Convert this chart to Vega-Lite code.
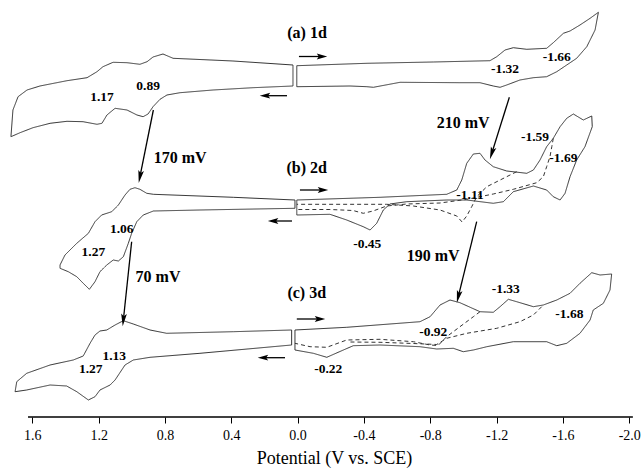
{
"$schema": "https://vega.github.io/schema/vega-lite/v6.json",
"width": 641, "height": 417,
"autosize": {"type": "none"},
"padding": {"left": 0, "right": 0, "top": 0, "bottom": 51},
"background": "white",
"config": {"view": {"stroke": null}},
"datasets": {
"cv": [
{"s":"aL","t":"full","o":1,"E":0.028,"i":35.2},{"s":"aL","t":"full","o":2,"E":0.390,"i":35.6},{"s":"aL","t":"full","o":3,"E":0.751,"i":35.87},{"s":"aL","t":"full","o":4,"E":0.812,"i":36.3},{"s":"aL","t":"full","o":5,"E":0.872,"i":36.0},{"s":"aL","t":"full","o":6,"E":0.908,"i":35.53},{"s":"aL","t":"full","o":7,"E":0.951,"i":35.27},{"s":"aL","t":"full","o":8,"E":1.029,"i":35.43},{"s":"aL","t":"full","o":9,"E":1.113,"i":35.47},{"s":"aL","t":"full","o":10,"E":1.174,"i":35.03},{"s":"aL","t":"full","o":11,"E":1.210,"i":34.53},{"s":"aL","t":"full","o":12,"E":1.270,"i":33.93},{"s":"aL","t":"full","o":13,"E":1.391,"i":33.63},{"s":"aL","t":"full","o":14,"E":1.554,"i":33.1},{"s":"aL","t":"full","o":15,"E":1.632,"i":32.7},{"s":"aL","t":"full","o":16,"E":1.686,"i":32.03},{"s":"aL","t":"full","o":17,"E":1.717,"i":30.7},{"s":"aL","t":"full","o":18,"E":1.729,"i":28.03},{"s":"aL","t":"full","o":19,"E":1.674,"i":28.43},{"s":"aL","t":"full","o":20,"E":1.596,"i":28.93},{"s":"aL","t":"full","o":21,"E":1.493,"i":29.37},{"s":"aL","t":"full","o":22,"E":1.391,"i":29.57},{"s":"aL","t":"full","o":23,"E":1.294,"i":29.53},{"s":"aL","t":"full","o":24,"E":1.210,"i":29.27},{"s":"aL","t":"full","o":25,"E":1.180,"i":29.37},{"s":"aL","t":"full","o":26,"E":1.150,"i":30.2},{"s":"aL","t":"full","o":27,"E":1.101,"i":30.87},{"s":"aL","t":"full","o":28,"E":1.029,"i":30.7},{"s":"aL","t":"full","o":29,"E":0.969,"i":30.2},{"s":"aL","t":"full","o":30,"E":0.932,"i":30.03},{"s":"aL","t":"full","o":31,"E":0.902,"i":30.3},{"s":"aL","t":"full","o":32,"E":0.872,"i":31.03},{"s":"aL","t":"full","o":33,"E":0.830,"i":31.77},{"s":"aL","t":"full","o":34,"E":0.788,"i":32.2},{"s":"aL","t":"full","o":35,"E":0.709,"i":32.43},{"s":"aL","t":"full","o":36,"E":0.510,"i":32.7},{"s":"aL","t":"full","o":37,"E":0.269,"i":32.93},{"s":"aL","t":"full","o":38,"E":0.028,"i":33.1},{"s":"aL","t":"full","o":39,"E":0.028,"i":35.2},
{"s":"aR","t":"full","o":1,"E":0.005,"i":35.13},{"s":"aR","t":"full","o":2,"E":-0.417,"i":35.37},{"s":"aR","t":"full","o":3,"E":-0.818,"i":35.5},{"s":"aR","t":"full","o":4,"E":-1.160,"i":35.63},{"s":"aR","t":"full","o":5,"E":-1.201,"i":36.03},{"s":"aR","t":"full","o":6,"E":-1.251,"i":36.7},{"s":"aR","t":"full","o":7,"E":-1.301,"i":36.93},{"s":"aR","t":"full","o":8,"E":-1.382,"i":36.77},{"s":"aR","t":"full","o":9,"E":-1.502,"i":36.87},{"s":"aR","t":"full","o":10,"E":-1.542,"i":37.43},{"s":"aR","t":"full","o":11,"E":-1.603,"i":38.37},{"s":"aR","t":"full","o":12,"E":-1.643,"i":38.6},{"s":"aR","t":"full","o":13,"E":-1.703,"i":39.2},{"s":"aR","t":"full","o":14,"E":-1.764,"i":39.87},{"s":"aR","t":"full","o":15,"E":-1.814,"i":40.47},{"s":"aR","t":"full","o":16,"E":-1.794,"i":38.7},{"s":"aR","t":"full","o":17,"E":-1.744,"i":37.03},{"s":"aR","t":"full","o":18,"E":-1.683,"i":35.87},{"s":"aR","t":"full","o":19,"E":-1.623,"i":35.2},{"s":"aR","t":"full","o":20,"E":-1.563,"i":34.53},{"s":"aR","t":"full","o":21,"E":-1.502,"i":34.03},{"s":"aR","t":"full","o":22,"E":-1.422,"i":33.93},{"s":"aR","t":"full","o":23,"E":-1.341,"i":33.7},{"s":"aR","t":"full","o":24,"E":-1.261,"i":33.2},{"s":"aR","t":"full","o":25,"E":-1.221,"i":32.97},{"s":"aR","t":"full","o":26,"E":-1.180,"i":33.1},{"s":"aR","t":"full","o":27,"E":-1.100,"i":33.43},{"s":"aR","t":"full","o":28,"E":-0.979,"i":33.43},{"s":"aR","t":"full","o":29,"E":-0.618,"i":33.47},{"s":"aR","t":"full","o":30,"E":-0.457,"i":32.97},{"s":"aR","t":"full","o":31,"E":-0.417,"i":33.03},{"s":"aR","t":"full","o":32,"E":-0.316,"i":33.1},{"s":"aR","t":"full","o":33,"E":0.005,"i":33.03},{"s":"aR","t":"full","o":34,"E":0.005,"i":35.13},
{"s":"bL","t":"full","o":1,"E":0.016,"i":21.7},{"s":"bL","t":"full","o":2,"E":0.388,"i":21.97},{"s":"bL","t":"full","o":3,"E":0.870,"i":22.27},{"s":"bL","t":"full","o":4,"E":0.910,"i":22.37},{"s":"bL","t":"full","o":5,"E":0.951,"i":22.77},{"s":"bL","t":"full","o":6,"E":0.981,"i":22.93},{"s":"bL","t":"full","o":7,"E":1.011,"i":22.77},{"s":"bL","t":"full","o":8,"E":1.041,"i":22.2},{"s":"bL","t":"full","o":9,"E":1.081,"i":21.2},{"s":"bL","t":"full","o":10,"E":1.121,"i":20.53},{"s":"bL","t":"full","o":11,"E":1.182,"i":20.2},{"s":"bL","t":"full","o":12,"E":1.222,"i":19.53},{"s":"bL","t":"full","o":13,"E":1.262,"i":18.37},{"s":"bL","t":"full","o":14,"E":1.332,"i":17.37},{"s":"bL","t":"full","o":15,"E":1.403,"i":16.2},{"s":"bL","t":"full","o":16,"E":1.433,"i":15.2},{"s":"bL","t":"full","o":17,"E":1.433,"i":14.87},{"s":"bL","t":"full","o":18,"E":1.383,"i":14.53},{"s":"bL","t":"full","o":19,"E":1.332,"i":14.03},{"s":"bL","t":"full","o":20,"E":1.293,"i":13.37},{"s":"bL","t":"full","o":21,"E":1.256,"i":12.77},{"s":"bL","t":"full","o":22,"E":1.222,"i":13.53},{"s":"bL","t":"full","o":23,"E":1.192,"i":14.53},{"s":"bL","t":"full","o":24,"E":1.151,"i":15.2},{"s":"bL","t":"full","o":25,"E":1.112,"i":15.7},{"s":"bL","t":"full","o":26,"E":1.081,"i":15.6},{"s":"bL","t":"full","o":27,"E":1.051,"i":16.03},{"s":"bL","t":"full","o":28,"E":1.021,"i":17.37},{"s":"bL","t":"full","o":29,"E":1.001,"i":18.37},{"s":"bL","t":"full","o":30,"E":0.970,"i":19.53},{"s":"bL","t":"full","o":31,"E":0.931,"i":20.2},{"s":"bL","t":"full","o":32,"E":0.870,"i":20.6},{"s":"bL","t":"full","o":33,"E":0.589,"i":20.7},{"s":"bL","t":"full","o":34,"E":0.016,"i":20.87},{"s":"bL","t":"full","o":35,"E":0.016,"i":21.7},
{"s":"bR","t":"full","o":1,"E":0.005,"i":21.7},{"s":"bR","t":"full","o":2,"E":-0.497,"i":21.97},{"s":"bR","t":"full","o":3,"E":-0.899,"i":22.27},{"s":"bR","t":"full","o":4,"E":-0.960,"i":22.7},{"s":"bR","t":"full","o":5,"E":-0.990,"i":23.7},{"s":"bR","t":"full","o":6,"E":-1.020,"i":25.37},{"s":"bR","t":"full","o":7,"E":-1.060,"i":26.3},{"s":"bR","t":"full","o":8,"E":-1.100,"i":26.37},{"s":"bR","t":"full","o":9,"E":-1.130,"i":25.7},{"s":"bR","t":"full","o":10,"E":-1.180,"i":25.03},{"s":"bR","t":"full","o":11,"E":-1.261,"i":24.6},{"s":"bR","t":"full","o":12,"E":-1.382,"i":24.37},{"s":"bR","t":"full","o":13,"E":-1.422,"i":24.7},{"s":"bR","t":"full","o":14,"E":-1.462,"i":25.7},{"s":"bR","t":"full","o":15,"E":-1.502,"i":27.03},{"s":"bR","t":"full","o":16,"E":-1.542,"i":27.87},{"s":"bR","t":"full","o":17,"E":-1.583,"i":29.03},{"s":"bR","t":"full","o":18,"E":-1.623,"i":29.87},{"s":"bR","t":"full","o":19,"E":-1.663,"i":30.3},{"s":"bR","t":"full","o":20,"E":-1.723,"i":29.7},{"s":"bR","t":"full","o":21,"E":-1.774,"i":30.1},{"s":"bR","t":"full","o":22,"E":-1.777,"i":29.03},{"s":"bR","t":"full","o":23,"E":-1.733,"i":27.03},{"s":"bR","t":"full","o":24,"E":-1.683,"i":25.7},{"s":"bR","t":"full","o":25,"E":-1.643,"i":24.03},{"s":"bR","t":"full","o":26,"E":-1.613,"i":22.37},{"s":"bR","t":"full","o":27,"E":-1.583,"i":21.7},{"s":"bR","t":"full","o":28,"E":-1.542,"i":22.03},{"s":"bR","t":"full","o":29,"E":-1.502,"i":22.7},{"s":"bR","t":"full","o":30,"E":-1.422,"i":23.1},{"s":"bR","t":"full","o":31,"E":-1.301,"i":22.53},{"s":"bR","t":"full","o":32,"E":-1.241,"i":21.53},{"s":"bR","t":"full","o":33,"E":-1.180,"i":21.37},{"s":"bR","t":"full","o":34,"E":-1.020,"i":21.7},{"s":"bR","t":"full","o":35,"E":-0.899,"i":21.7},{"s":"bR","t":"full","o":36,"E":-0.658,"i":21.53},{"s":"bR","t":"full","o":37,"E":-0.557,"i":21.3},{"s":"bR","t":"full","o":38,"E":-0.517,"i":20.7},{"s":"bR","t":"full","o":39,"E":-0.477,"i":19.37},{"s":"bR","t":"full","o":40,"E":-0.437,"i":18.7},{"s":"bR","t":"full","o":41,"E":-0.396,"i":19.03},{"s":"bR","t":"full","o":42,"E":-0.296,"i":19.7},{"s":"bR","t":"full","o":43,"E":-0.195,"i":20.27},{"s":"bR","t":"full","o":44,"E":0.005,"i":20.2},{"s":"bR","t":"full","o":45,"E":0.005,"i":21.7},
{"s":"db1","t":"partial","o":1,"E":-1.321,"i":24.53},{"s":"db1","t":"partial","o":2,"E":-1.261,"i":24.03},{"s":"db1","t":"partial","o":3,"E":-1.141,"i":23.03},{"s":"db1","t":"partial","o":4,"E":-1.080,"i":22.03},{"s":"db1","t":"partial","o":5,"E":-1.050,"i":21.03},{"s":"db1","t":"partial","o":6,"E":-1.020,"i":20.1},{"s":"db1","t":"partial","o":7,"E":-0.992,"i":19.5},{"s":"db1","t":"partial","o":8,"E":-0.960,"i":20.1},{"s":"db1","t":"partial","o":9,"E":-0.859,"i":20.7},{"s":"db1","t":"partial","o":10,"E":-0.698,"i":21.1},{"s":"db1","t":"partial","o":11,"E":-0.537,"i":21.27},{"s":"db1","t":"partial","o":12,"E":-0.256,"i":21.27},{"s":"db1","t":"partial","o":13,"E":0.005,"i":21.27},
{"s":"db2","t":"partial","o":1,"E":-1.542,"i":27.87},{"s":"db2","t":"partial","o":2,"E":-1.533,"i":27.03},{"s":"db2","t":"partial","o":3,"E":-1.522,"i":26.03},{"s":"db2","t":"partial","o":4,"E":-1.502,"i":25.03},{"s":"db2","t":"partial","o":5,"E":-1.482,"i":24.03},{"s":"db2","t":"partial","o":6,"E":-1.442,"i":23.43},{"s":"db2","t":"partial","o":7,"E":-1.301,"i":22.77},{"s":"db2","t":"partial","o":8,"E":-1.180,"i":22.3},{"s":"db2","t":"partial","o":9,"E":-1.100,"i":22.03},{"s":"db2","t":"partial","o":10,"E":-1.020,"i":21.77},{"s":"db2","t":"partial","o":11,"E":-0.859,"i":21.4},{"s":"db2","t":"partial","o":12,"E":-0.658,"i":21.3},{"s":"db2","t":"partial","o":13,"E":-0.537,"i":21.1},{"s":"db2","t":"partial","o":14,"E":-0.455,"i":20.6},{"s":"db2","t":"partial","o":15,"E":-0.396,"i":20.37},{"s":"db2","t":"partial","o":16,"E":-0.334,"i":20.65},{"s":"db2","t":"partial","o":17,"E":-0.195,"i":20.75},{"s":"db2","t":"partial","o":18,"E":0.005,"i":20.75},
{"s":"cL","t":"full","o":1,"E":0.036,"i":8.7},{"s":"cL","t":"full","o":2,"E":0.388,"i":8.53},{"s":"cL","t":"full","o":3,"E":0.790,"i":8.37},{"s":"cL","t":"full","o":4,"E":0.890,"i":8.7},{"s":"cL","t":"full","o":5,"E":0.991,"i":9.3},{"s":"cL","t":"full","o":6,"E":1.051,"i":9.63},{"s":"cL","t":"full","o":7,"E":1.101,"i":9.2},{"s":"cL","t":"full","o":8,"E":1.151,"i":8.7},{"s":"cL","t":"full","o":9,"E":1.192,"i":8.6},{"s":"cL","t":"full","o":10,"E":1.222,"i":8.2},{"s":"cL","t":"full","o":11,"E":1.252,"i":7.37},{"s":"cL","t":"full","o":12,"E":1.293,"i":6.1},{"s":"cL","t":"full","o":13,"E":1.353,"i":5.7},{"s":"cL","t":"full","o":14,"E":1.493,"i":5.2},{"s":"cL","t":"full","o":15,"E":1.634,"i":4.37},{"s":"cL","t":"full","o":16,"E":1.694,"i":3.53},{"s":"cL","t":"full","o":17,"E":1.704,"i":2.53},{"s":"cL","t":"full","o":18,"E":1.634,"i":2.7},{"s":"cL","t":"full","o":19,"E":1.493,"i":3.2},{"s":"cL","t":"full","o":20,"E":1.393,"i":3.1},{"s":"cL","t":"full","o":21,"E":1.332,"i":2.53},{"s":"cL","t":"full","o":22,"E":1.262,"i":1.7},{"s":"cL","t":"full","o":23,"E":1.222,"i":2.03},{"s":"cL","t":"full","o":24,"E":1.192,"i":2.7},{"s":"cL","t":"full","o":25,"E":1.131,"i":3.2},{"s":"cL","t":"full","o":26,"E":1.101,"i":3.7},{"s":"cL","t":"full","o":27,"E":1.041,"i":5.2},{"s":"cL","t":"full","o":28,"E":0.991,"i":5.7},{"s":"cL","t":"full","o":29,"E":0.890,"i":5.97},{"s":"cL","t":"full","o":30,"E":0.589,"i":6.37},{"s":"cL","t":"full","o":31,"E":0.036,"i":7.2},{"s":"cL","t":"full","o":32,"E":0.036,"i":8.7},
{"s":"cR","t":"full","o":1,"E":0.016,"i":8.7},{"s":"cR","t":"full","o":2,"E":-0.296,"i":8.97},{"s":"cR","t":"full","o":3,"E":-0.738,"i":9.53},{"s":"cR","t":"full","o":4,"E":-0.799,"i":10.03},{"s":"cR","t":"full","o":5,"E":-0.859,"i":11.2},{"s":"cR","t":"full","o":6,"E":-0.919,"i":11.7},{"s":"cR","t":"full","o":7,"E":-0.979,"i":11.43},{"s":"cR","t":"full","o":8,"E":-1.100,"i":10.53},{"s":"cR","t":"full","o":9,"E":-1.180,"i":10.47},{"s":"cR","t":"full","o":10,"E":-1.221,"i":11.03},{"s":"cR","t":"full","o":11,"E":-1.271,"i":11.77},{"s":"cR","t":"full","o":12,"E":-1.321,"i":11.53},{"s":"cR","t":"full","o":13,"E":-1.422,"i":11.03},{"s":"cR","t":"full","o":14,"E":-1.482,"i":11.2},{"s":"cR","t":"full","o":15,"E":-1.563,"i":11.7},{"s":"cR","t":"full","o":16,"E":-1.643,"i":12.37},{"s":"cR","t":"full","o":17,"E":-1.703,"i":13.37},{"s":"cR","t":"full","o":18,"E":-1.774,"i":14.43},{"s":"cR","t":"full","o":19,"E":-1.824,"i":14.2},{"s":"cR","t":"full","o":20,"E":-1.894,"i":14.3},{"s":"cR","t":"full","o":21,"E":-1.884,"i":12.7},{"s":"cR","t":"full","o":22,"E":-1.844,"i":11.37},{"s":"cR","t":"full","o":23,"E":-1.783,"i":10.7},{"s":"cR","t":"full","o":24,"E":-1.764,"i":9.7},{"s":"cR","t":"full","o":25,"E":-1.703,"i":8.37},{"s":"cR","t":"full","o":26,"E":-1.623,"i":7.37},{"s":"cR","t":"full","o":27,"E":-1.563,"i":7.13},{"s":"cR","t":"full","o":28,"E":-1.502,"i":7.53},{"s":"cR","t":"full","o":29,"E":-1.301,"i":7.53},{"s":"cR","t":"full","o":30,"E":-1.141,"i":7.03},{"s":"cR","t":"full","o":31,"E":-1.060,"i":6.7},{"s":"cR","t":"full","o":32,"E":-0.999,"i":6.53},{"s":"cR","t":"full","o":33,"E":-0.939,"i":6.87},{"s":"cR","t":"full","o":34,"E":-0.839,"i":6.8},{"s":"cR","t":"full","o":35,"E":-0.738,"i":7.03},{"s":"cR","t":"full","o":36,"E":-0.497,"i":7.2},{"s":"cR","t":"full","o":37,"E":-0.336,"i":7.13},{"s":"cR","t":"full","o":38,"E":-0.276,"i":6.7},{"s":"cR","t":"full","o":39,"E":-0.176,"i":5.97},{"s":"cR","t":"full","o":40,"E":-0.095,"i":6.37},{"s":"cR","t":"full","o":41,"E":0.016,"i":6.7},{"s":"cR","t":"full","o":42,"E":0.016,"i":8.7},
{"s":"dc1","t":"partial","o":1,"E":-1.100,"i":10.53},{"s":"dc1","t":"partial","o":2,"E":-1.060,"i":10.03},{"s":"dc1","t":"partial","o":3,"E":-0.979,"i":9.03},{"s":"dc1","t":"partial","o":4,"E":-0.899,"i":8.03},{"s":"dc1","t":"partial","o":5,"E":-0.847,"i":7.15},{"s":"dc1","t":"partial","o":6,"E":-0.799,"i":7.2},{"s":"dc1","t":"partial","o":7,"E":-0.698,"i":7.53},{"s":"dc1","t":"partial","o":8,"E":-0.497,"i":7.77},{"s":"dc1","t":"partial","o":9,"E":-0.296,"i":7.7},{"s":"dc1","t":"partial","o":10,"E":-0.176,"i":6.97},{"s":"dc1","t":"partial","o":11,"E":-0.075,"i":7.03},{"s":"dc1","t":"partial","o":12,"E":0.016,"i":7.37},
{"s":"dc2","t":"partial","o":1,"E":-1.472,"i":11.03},{"s":"dc2","t":"partial","o":2,"E":-1.422,"i":10.2},{"s":"dc2","t":"partial","o":3,"E":-1.341,"i":9.53},{"s":"dc2","t":"partial","o":4,"E":-1.201,"i":8.87},{"s":"dc2","t":"partial","o":5,"E":-1.020,"i":8.37},{"s":"dc2","t":"partial","o":6,"E":-0.899,"i":7.87},{"s":"dc2","t":"partial","o":7,"E":-0.839,"i":7.25},{"s":"dc2","t":"partial","o":8,"E":-0.698,"i":7.35},{"s":"dc2","t":"partial","o":9,"E":-0.497,"i":7.47},{"s":"dc2","t":"partial","o":10,"E":-0.316,"i":7.5}
],
"arrows": [
{"id":"aR","E":-0.147,"i":36.05,"E2":-0.008,"i2":36.05},
{"id":"aL","E":0.197,"i":32.13,"E2":0.064,"i2":32.13},
{"id":"bR","E":-0.153,"i":22.7,"E2":-0.014,"i2":22.7},
{"id":"bL","E":0.148,"i":19.6,"E2":0.034,"i2":19.6},
{"id":"cR","E":-0.135,"i":9.8,"E2":0.005,"i2":9.8},
{"id":"cL","E":0.209,"i":5.93,"E2":0.076,"i2":5.93},
{"id":"170","E":0.951,"i":24.03,"E2":0.870,"i2":30.7},
{"id":"210","E":-1.171,"i":26.37,"E2":-1.277,"i2":31.97},
{"id":"70","E":1.051,"i":9.7,"E2":1.001,"i2":17.53},
{"id":"190","E":-0.969,"i":12.03,"E2":-1.080,"i2":19.53}
],
"axisline": [{"E":1.626,"E2":-2.022,"i":0}],
"labels": [
{"k":"big","txt":"(a) 1d","E":-0.057,"i":38.4},
{"k":"big","txt":"(b) 2d","E":-0.055,"i":24.87},
{"k":"big","txt":"(c) 3d","E":-0.055,"i":12.37},
{"k":"big","txt":"170 mV","E":0.709,"i":25.9},
{"k":"big","txt":"210 mV","E":-0.998,"i":29.4},
{"k":"big","txt":"70 mV","E":0.842,"i":14.03},
{"k":"big","txt":"190 mV","E":-0.817,"i":16.1},
{"k":"small","txt":"0.89","E":0.902,"i":33.1},
{"k":"small","txt":"1.17","E":1.180,"i":32.0},
{"k":"small","txt":"-1.32","E":-1.251,"i":34.8},
{"k":"small","txt":"-1.66","E":-1.563,"i":35.97},
{"k":"small","txt":"1.06","E":1.061,"i":18.77},
{"k":"small","txt":"1.27","E":1.232,"i":16.53},
{"k":"small","txt":"-1.59","E":-1.432,"i":28.03},
{"k":"small","txt":"-1.69","E":-1.603,"i":25.87},
{"k":"small","txt":"-1.11","E":-1.040,"i":22.2},
{"k":"small","txt":"-0.45","E":-0.420,"i":17.3},
{"k":"small","txt":"-1.33","E":-1.255,"i":12.77},
{"k":"small","txt":"-0.92","E":-0.818,"i":8.53},
{"k":"small","txt":"-1.68","E":-1.639,"i":10.27},
{"k":"small","txt":"-0.22","E":-0.185,"i":4.8},
{"k":"small","txt":"1.13","E":1.106,"i":6.1},
{"k":"small","txt":"1.27","E":1.248,"i":4.8}
]
},
"encoding": {
"x": {"field": "E", "type": "quantitative",
  "scale": {"domain": [-2.071, 1.795], "reverse": true, "nice": false, "zero": false},
  "axis": {"values": [1.6, 1.2, 0.8, 0.4, 0, -0.4, -0.8, -1.2, -1.6, -2], "domain": false, "grid": false, "tickSize": 6, "tickColor": "#000", "tickWidth": 1, "labelFont": "Liberation Serif, Times New Roman, serif", "labelFontSize": 14, "labelColor": "#000", "labelPadding": 5, "labelFlush": false, "labelOverlap": false, "labelExpr": "replace(format(datum.value,'.1f'),'\u2212','-')", "title": "Potential (V vs. SCE)", "titleFont": "Liberation Serif, Times New Roman, serif", "titleFontSize": 18, "titleFontWeight": "normal", "titleColor": "#000", "titlePadding": 7, "titleX": 334, "titleAnchor": "start", "titleAlign": "center"}},
"y": {"field": "i", "type": "quantitative", "scale": {"domain": [0, 41.7], "nice": false, "zero": false}, "axis": null}
},
"layer": [
{"data": {"name": "cv"},
 "mark": {"type": "line", "stroke": "#333", "strokeWidth": 1, "strokeJoin": "round", "interpolate": "linear"},
 "encoding": {
  "detail": {"field": "s", "type": "nominal"},
  "order": {"field": "o", "type": "quantitative"},
  "strokeDash": {"field": "t", "type": "nominal", "scale": {"domain": ["full", "partial"], "range": [[1, 0], [4, 3]]}, "legend": null}
 }},
{"data": {"name": "axisline"},
 "mark": {"type": "rule", "stroke": "#000", "strokeWidth": 1.6},
 "encoding": {"x2": {"field": "E2"}}},
{"data": {"name": "arrows"},
 "mark": {"type": "rule", "stroke": "#000", "strokeWidth": 1.3},
 "encoding": {"x2": {"field": "E2"}, "y2": {"field": "i2"}}},
{"data": {"name": "arrows"},
 "transform": [{"filter": {"field": "id", "oneOf": ["aR", "bR", "cR"]}}],
 "mark": {"type": "point", "filled": true, "color": "#000", "opacity": 1, "size": 110, "dx": -4, "shape": "M-1,-0.55L1,0L-1,0.55L-0.6,0Z"}},
{"data": {"name": "arrows"},
 "transform": [{"filter": {"field": "id", "oneOf": ["aL", "bL", "cL"]}}],
 "mark": {"type": "point", "filled": true, "color": "#000", "opacity": 1, "size": 110, "dx": 4, "shape": "M1,-0.55L-1,0L1,0.55L0.6,0Z"}},
{"data": {"name": "arrows"},
 "transform": [{"filter": "datum.id === '170'"}],
 "mark": {"type": "point", "filled": true, "color": "#000", "opacity": 1, "size": 160, "dy": -5, "angle": 11, "shape": "M-0.45,-1L0,1L0.45,-1L0,-0.6Z"}},
{"data": {"name": "arrows"},
 "transform": [{"filter": "datum.id === '210'"}],
 "mark": {"type": "point", "filled": true, "color": "#000", "opacity": 1, "size": 160, "dy": -5, "dx": 1, "angle": 17, "shape": "M-0.45,-1L0,1L0.45,-1L0,-0.6Z"}},
{"data": {"name": "arrows"},
 "transform": [{"filter": "datum.id === '70'"}],
 "mark": {"type": "point", "filled": true, "color": "#000", "opacity": 1, "size": 160, "dy": -5, "angle": 6, "shape": "M-0.45,-1L0,1L0.45,-1L0,-0.6Z"}},
{"data": {"name": "arrows"},
 "transform": [{"filter": "datum.id === '190'"}],
 "mark": {"type": "point", "filled": true, "color": "#000", "opacity": 1, "size": 160, "dy": -5, "dx": 1, "angle": 13, "shape": "M-0.45,-1L0,1L0.45,-1L0,-0.6Z"}},
{"data": {"name": "labels"},
 "transform": [{"filter": "datum.k === 'big'"}],
 "mark": {"type": "text", "font": "Liberation Serif, Times New Roman, serif", "fontWeight": "bold", "fontSize": 16, "color": "#000", "align": "center", "baseline": "middle"},
 "encoding": {"text": {"field": "txt", "type": "nominal"}}},
{"data": {"name": "labels"},
 "transform": [{"filter": "datum.k === 'small'"}],
 "mark": {"type": "text", "font": "Liberation Serif, Times New Roman, serif", "fontWeight": "bold", "fontSize": 13.5, "color": "#000", "align": "center", "baseline": "middle"},
 "encoding": {"text": {"field": "txt", "type": "nominal"}}}
]
}
